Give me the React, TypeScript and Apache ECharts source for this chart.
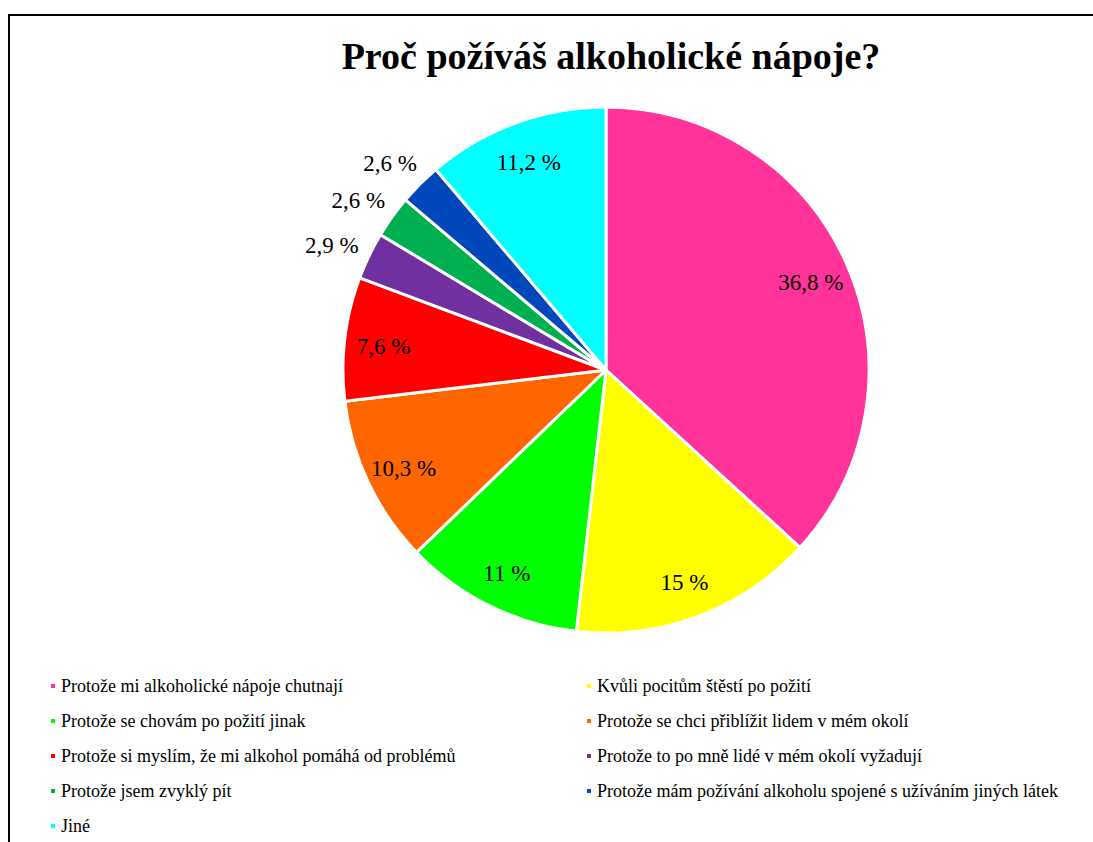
import React, { useEffect, useRef } from "react";
import * as echarts from "echarts";

const categories = [
  "Protože mi alkoholické nápoje chutnají",
  "Kvůli pocitům štěstí po požití",
  "Protože se chovám po požití jinak",
  "Protože se chci přiblížit lidem v mém okolí",
  "Protože si myslím, že mi alkohol pomáhá od problémů",
  "Protože to po mně lidé v mém okolí vyžadují",
  "Protože jsem zvyklý pít",
  "Protože mám požívání alkoholu spojené s užíváním jiných látek",
  "Jiné",
];
const values = [36.8, 15, 11, 10.3, 7.6, 2.9, 2.6, 2.6, 11.2];
const colors = ["#FF3399", "#FFFF00", "#00FF00", "#FF6600", "#FF0000", "#7030A0", "#00B050", "#0047BB", "#00FFFF"];
const outsideLabelIdx = [5, 6, 7];

const FONT = "'Liberation Serif', 'Times New Roman', serif";

const fmt = (v: number) => String(v).replace(".", ",") + " %";

export default function App() {
  const ref = useRef<HTMLDivElement>(null);
  useEffect(() => {
    if (!ref.current) return;
    const chart = echarts.init(ref.current, null, { renderer: "svg" });
    const cx = 606, cy = 370, R = 263;
    const mainData = categories.map((name, i) => ({
      name,
      value: values[i],
      itemStyle: { color: colors[i] },
    }));
    const overlay = (showIdx: (i: number) => boolean) =>
      categories.map((name, i) => ({
        name,
        value: values[i],
        label: { show: showIdx(i) },
      }));
    const legendBase = {
      orient: "vertical",
      top: 677,
      padding: 0,
      icon: "rect",
      itemWidth: 6,
      itemHeight: 6,
      itemGap: 17,
      selectedMode: false,
      textStyle: { fontFamily: FONT, fontSize: 18, color: "#000", lineHeight: 18 },
    };
    const labelStyle = {
      position: "inside",
      formatter: (p: any) => fmt(p.value),
      fontFamily: FONT,
      fontSize: 23,
      color: "#000",
    };
    chart.setOption({
      animation: false,
      backgroundColor: "#fff",
      title: {
        text: "Proč požíváš alkoholické nápoje?",
        left: 611,
        top: 37,
        textAlign: "center",
        padding: 0,
        textStyle: { fontFamily: FONT, fontSize: 38, fontWeight: "bold", color: "#000" },
      },
      legend: [
        { ...legendBase, left: 49, data: categories.filter((_, i) => i % 2 === 0) },
        { ...legendBase, left: 585, data: categories.filter((_, i) => i % 2 === 1) },
      ],
      graphic: [
        {
          type: "rect",
          shape: { x: 9, y: 15, width: 1200, height: 900 },
          style: { fill: "none", stroke: "#000", lineWidth: 2 },
          silent: true,
          z: 100,
        },
      ],
      series: [
        {
          type: "pie",
          center: [cx, cy],
          radius: [0, R],
          startAngle: 90,
          clockwise: true,
          data: mainData,
          label: { show: false },
          labelLine: { show: false },
          itemStyle: { borderColor: "#fff", borderWidth: 3 },
          emphasis: { disabled: true },
        },
        {
          type: "pie",
          center: [cx, cy + 3],
          radius: [0, R * 1.68],
          startAngle: 90,
          clockwise: true,
          silent: true,
          legendHoverLink: false,
          data: overlay((i) => !outsideLabelIdx.includes(i)),
          itemStyle: { color: "rgba(0,0,0,0)" },
          label: labelStyle,
          labelLine: { show: false },
          emphasis: { disabled: true },
        },
        {
          type: "pie",
          center: [cx - 3, cy + 6],
          radius: [0, 596],
          startAngle: 90,
          clockwise: true,
          silent: true,
          legendHoverLink: false,
          data: overlay((i) => outsideLabelIdx.includes(i)),
          itemStyle: { color: "rgba(0,0,0,0)" },
          label: labelStyle,
          labelLine: { show: false },
          emphasis: { disabled: true },
        },
      ],
    });
    return () => chart.dispose();
  }, []);
  return (
    <div
      ref={ref}
      style={{ position: "fixed", left: 0, top: 0, width: 1093, height: 842, background: "#fff" }}
    />
  );
}
